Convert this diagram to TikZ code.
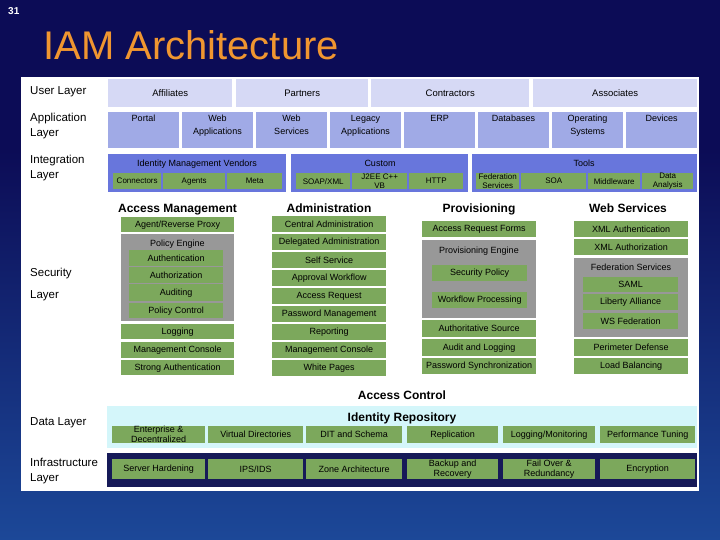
\documentclass[tikz,border=0pt]{standalone}
\usepackage{fontspec}
\setmainfont{Liberation Sans}

\definecolor{slidebg}{RGB}{12,12,86}
\definecolor{slidebot}{RGB}{28,72,152}
\definecolor{titleor}{RGB}{240,150,48}
\definecolor{userc}{RGB}{214,217,245}
\definecolor{appc}{RGB}{160,170,230}
\definecolor{intc}{RGB}{104,118,220}
\definecolor{iamgreen}{RGB}{124,168,92}
\definecolor{enggray}{RGB}{152,152,152}
\definecolor{repcyan}{RGB}{212,246,250}
\definecolor{infnavy}{RGB}{22,26,88}

\begin{document}
\begin{tikzpicture}[x=1pt,y=-1pt,
  bx/.style n args={4}{anchor=north west,at={(#1,#2)},minimum width=#3,minimum height=#4},
  gbox/.style={fill=iamgreen,inner sep=0pt,align=center,font=\fontsize{9}{10}\selectfont},
  ibox/.style={gbox,font=\fontsize{8}{8.5}\selectfont},
  ubox/.style={fill=userc,inner sep=0pt,font=\fontsize{9.5}{11}\selectfont},
  apptxt/.style={anchor=north,inner sep=0pt,align=center,font=\fontsize{9}{13}\selectfont},
  grptxt/.style={inner sep=0pt,font=\fontsize{9}{10}\selectfont},
  hdr/.style={anchor=base,inner sep=0pt,font=\fontsize{12}{14}\selectfont\bfseries},
  layer/.style={anchor=north west,inner sep=0pt,align=left,font=\fontsize{11.5}{15}\selectfont}]
\fill[slidebg] (0,0) rectangle (720,540);
\shade[top color=slidebg,bottom color=slidebot] (0,150) rectangle (720,540);
\useasboundingbox (0,0) rectangle (720,540);
\node[anchor=north west,inner sep=0pt,text=white,font=\fontsize{10}{12}\selectfont\bfseries] (pgno) at (8,7) {31};
\node[anchor=base west,inner sep=0pt,text=titleor,font=\fontsize{40}{42}\selectfont] (title) at (43,60) {IAM Architecture};
\fill[white] (21,77) rectangle (699,491);

\node[layer,anchor=west] (userlay) at (30,92) {User Layer};
\node[ubox,bx={108}{79}{124}{28}] (affil) {Affiliates};
\node[ubox,bx={236}{79}{132}{28}] (partners) {Partners};
\node[ubox,bx={371}{79}{158}{28}] (contract) {Contractors};
\node[ubox,bx={533}{79}{164}{28}] (assoc) {Associates};

\node[layer] (applay) at (30,113) {Application\\Layer};
\fill[appc] (108,112) rectangle +(71,36);
\node[apptxt] (portal) at (143.5,115) {Portal};
\fill[appc] (182,112) rectangle +(71,36);
\node[apptxt] (webapps) at (217.5,115) {Web\\Applications};
\fill[appc] (256,112) rectangle +(71,36);
\node[apptxt] (websvc) at (291.5,115) {Web\\Services};
\fill[appc] (330,112) rectangle +(71,36);
\node[apptxt] (legacy) at (365.5,115) {Legacy\\Applications};
\fill[appc] (404,112) rectangle +(71,36);
\node[apptxt] (erp) at (439.5,115) {ERP};
\fill[appc] (478,112) rectangle +(71,36);
\node[apptxt] (dbs) at (513.5,115) {Databases};
\fill[appc] (552,112) rectangle +(71,36);
\node[apptxt] (opsys) at (587.5,115) {Operating\\Systems};
\fill[appc] (626,112) rectangle +(71,36);
\node[apptxt] (devices) at (661.5,115) {Devices};

\node[layer] (intlay) at (30,155) {Integration\\Layer};
\fill[intc] (108,154) rectangle (286,192);
\node[grptxt] (imv) at (197,164) {Identity Management Vendors};
\node[ibox,bx={113}{173}{48}{16}] (conn) {Connectors};
\node[ibox,bx={163}{173}{62}{16}] (agents) {Agents};
\node[ibox,bx={227}{173}{55}{16}] (meta) {Meta};
\fill[intc] (291,154) rectangle (468,192);
\node[grptxt] (custom) at (380,163) {Custom};
\node[ibox,bx={296}{173}{54}{16}] (soap) {SOAP/XML};
\node[ibox,bx={352}{173}{55}{16}] (j2ee) {J2EE C++\\VB};
\node[ibox,bx={409}{173}{54}{16}] (http) {HTTP};
\fill[intc] (472,154) rectangle (697,192);
\node[grptxt] (tools) at (584,163) {Tools};
\node[ibox,bx={476}{173}{43}{16}] (fedsvc) {Federation\\Services};
\node[ibox,bx={521}{173}{65}{16}] (soa) {SOA};
\node[ibox,bx={588}{173}{52}{16}] (midw) {Middleware};
\node[ibox,bx={642}{173}{51}{16}] (danal) {Data\\Analysis};

\node[layer] (seclay) at (30,268) {Security\\[7pt]Layer};
\node[hdr] (amhead) at (177.5,213) {Access Management};
\node[gbox,bx={121}{217}{113}{15}] (agent) {Agent/Reverse Proxy};
\fill[enggray] (121,234) rectangle (234,321);
\node[grptxt] (peng) at (177.5,244) {Policy Engine};
\node[gbox,bx={129}{250}{94}{16}] (authn) {Authentication};
\node[gbox,bx={129}{267}{94}{16}] (authz) {Authorization};
\node[gbox,bx={129}{284}{94}{17}] (audit) {Auditing};
\node[gbox,bx={129}{303}{94}{15}] (polctl) {Policy Control};
\node[gbox,bx={121}{324}{113}{15}] (logging) {Logging};
\node[gbox,bx={121}{342}{113}{16}] (mgmtcon) {Management Console};
\node[gbox,bx={121}{360}{113}{15}] (strongauth) {Strong Authentication};

\node[hdr] (adhead) at (329,213) {Administration};
\node[gbox,bx={272}{216}{114}{16}] (central) {Central Administration};
\node[gbox,bx={272}{234}{114}{16}] (delegated) {Delegated Administration};
\node[gbox,bx={272}{252}{114}{16}] (selfsvc) {Self Service};
\node[gbox,bx={272}{270}{114}{16}] (approval) {Approval Workflow};
\node[gbox,bx={272}{288}{114}{16}] (accreq) {Access Request};
\node[gbox,bx={272}{306}{114}{16}] (pwmgmt) {Password Management};
\node[gbox,bx={272}{324}{114}{16}] (report) {Reporting};
\node[gbox,bx={272}{342}{114}{16}] (admcon) {Management Console};
\node[gbox,bx={272}{360}{114}{16}] (whitepg) {White Pages};

\node[hdr] (prhead) at (479,213) {Provisioning};
\node[gbox,bx={422}{221}{114}{16}] (arforms) {Access Request Forms};
\fill[enggray] (422,240) rectangle (536,318);
\node[grptxt] (preng) at (479,251) {Provisioning Engine};
\node[gbox,bx={432}{265}{95}{16}] (secpol) {Security Policy};
\node[gbox,bx={432}{292}{95}{16}] (wfproc) {Workflow Processing};
\node[gbox,bx={422}{320}{114}{17}] (authsrc) {Authoritative Source};
\node[gbox,bx={422}{339}{114}{17}] (auditlog) {Audit and Logging};
\node[gbox,bx={422}{358}{114}{16}] (pwsync) {Password Synchronization};

\node[hdr] (wshead) at (628,213) {Web Services};
\node[gbox,bx={574}{221}{114}{16}] (xmlauthn) {XML Authentication};
\node[gbox,bx={574}{239}{114}{16}] (xmlauthz) {XML Authorization};
\fill[enggray] (574,258) rectangle (688,337);
\node[grptxt] (fedsrv) at (631,267) {Federation Services};
\node[gbox,bx={583}{277}{95}{15}] (saml) {SAML};
\node[gbox,bx={583}{294}{95}{16}] (liberty) {Liberty Alliance};
\node[gbox,bx={583}{313}{95}{16}] (wsfed) {WS Federation};
\node[gbox,bx={574}{339}{114}{17}] (perim) {Perimeter Defense};
\node[gbox,bx={574}{358}{114}{16}] (loadbal) {Load Balancing};

\node[hdr] (acctrl) at (402,399) {Access Control};
\node[layer,anchor=west] (datalay) at (30,423) {Data Layer};
\fill[repcyan] (107,406) rectangle (697,448);
\node[hdr] (idrepo) at (402,421) {Identity Repository};
\node[gbox,bx={112}{426}{93}{17}] (entdec) {Enterprise \&\\Decentralized};
\node[gbox,bx={208}{426}{95}{17}] (virtdir) {Virtual Directories};
\node[gbox,bx={306}{426}{96}{17}] (dit) {DIT and Schema};
\node[gbox,bx={407}{426}{91}{17}] (repl) {Replication};
\node[gbox,bx={503}{426}{92}{17}] (logmon) {Logging/Monitoring};
\node[gbox,bx={600}{426}{95}{17}] (perftune) {Performance Tuning};

\node[layer] (inflay) at (30,458) {Infrastructure\\Layer};
\fill[infnavy] (107,453) rectangle (697,487);
\node[gbox,bx={112}{459}{93}{20}] (harden) {Server Hardening};
\node[gbox,bx={208}{459}{95}{20}] (ipsids) {IPS/IDS};
\node[gbox,bx={306}{459}{96}{20}] (zonearch) {Zone Architecture};
\node[gbox,bx={407}{459}{91}{20}] (backup) {Backup and\\Recovery};
\node[gbox,bx={503}{459}{92}{20}] (failover) {Fail Over \&\\Redundancy};
\node[gbox,bx={600}{459}{95}{20}] (encrypt) {Encryption};
\end{tikzpicture}
\end{document}
